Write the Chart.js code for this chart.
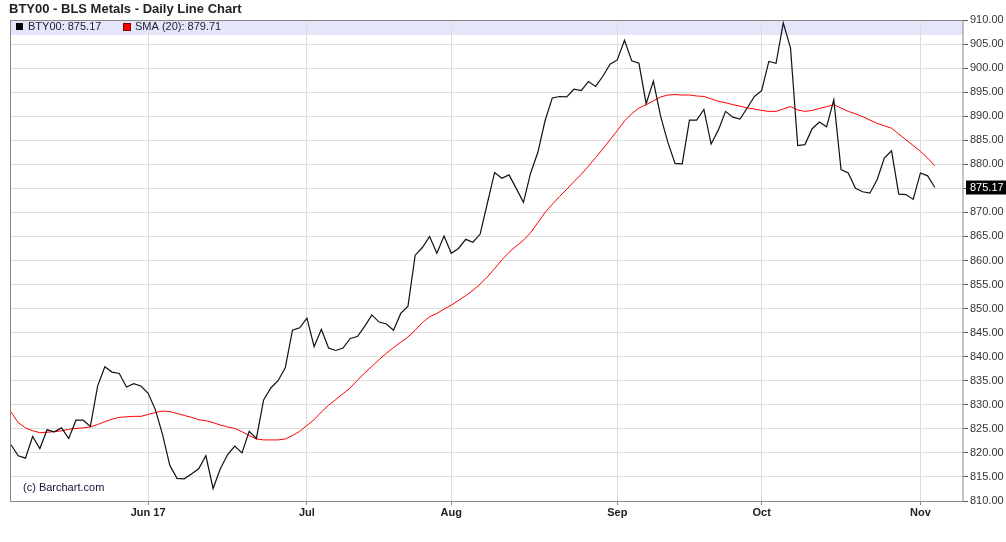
<!DOCTYPE html>
<html>
<head>
<meta charset="utf-8">
<script src="https://cdn.jsdelivr.net/npm/chart.js@4/dist/chart.umd.min.js"></script>
<style>
  html, body { margin: 0; padding: 0; background: #fff; }
  canvas { display: block; }
</style>
</head>
<body>
<canvas id="chart" width="1006" height="542"></canvas>
<script>
// trading days shown on the chart
const dates = [
  '2017-05-04','2017-05-05','2017-05-08','2017-05-09','2017-05-10','2017-05-11','2017-05-12','2017-05-15','2017-05-16','2017-05-17',
  '2017-05-18','2017-05-19','2017-05-22','2017-05-23','2017-05-24','2017-05-25','2017-05-26','2017-05-30','2017-05-31',
  '2017-06-01','2017-06-02','2017-06-05','2017-06-06','2017-06-07','2017-06-08','2017-06-09','2017-06-12','2017-06-13','2017-06-14',
  '2017-06-15','2017-06-16','2017-06-19','2017-06-20','2017-06-21','2017-06-22','2017-06-23','2017-06-26','2017-06-27','2017-06-28',
  '2017-06-29','2017-06-30',
  '2017-07-03','2017-07-05','2017-07-06','2017-07-07','2017-07-10','2017-07-11','2017-07-12','2017-07-13','2017-07-14','2017-07-17',
  '2017-07-18','2017-07-19','2017-07-20','2017-07-21','2017-07-24','2017-07-25','2017-07-26','2017-07-27','2017-07-28','2017-07-31',
  '2017-08-01','2017-08-02','2017-08-03','2017-08-04','2017-08-07','2017-08-08','2017-08-09','2017-08-10','2017-08-11','2017-08-14',
  '2017-08-15','2017-08-16','2017-08-17','2017-08-18','2017-08-21','2017-08-22','2017-08-23','2017-08-24','2017-08-25','2017-08-28',
  '2017-08-29','2017-08-30','2017-08-31',
  '2017-09-01','2017-09-05','2017-09-06','2017-09-07','2017-09-08','2017-09-11','2017-09-12','2017-09-13','2017-09-14','2017-09-15',
  '2017-09-18','2017-09-19','2017-09-20','2017-09-21','2017-09-22','2017-09-25','2017-09-26','2017-09-27','2017-09-28','2017-09-29',
  '2017-10-02','2017-10-03','2017-10-04','2017-10-05','2017-10-06','2017-10-09','2017-10-10','2017-10-11','2017-10-12','2017-10-13',
  '2017-10-16','2017-10-17','2017-10-18','2017-10-19','2017-10-20','2017-10-23','2017-10-24','2017-10-25','2017-10-26','2017-10-27',
  '2017-10-30','2017-10-31',
  '2017-11-01','2017-11-02','2017-11-03'
];

// BTY00 daily close
const closes = [
  821.7, 819.4, 818.9, 823.4, 820.9, 824.8, 824.4, 825.2, 823.0, 826.8,
  826.8, 825.5, 833.9, 837.9, 836.8, 836.5, 833.7, 834.4, 833.9,
  832.4, 829.0, 823.8, 817.4, 814.7, 814.6, 815.6, 816.7, 819.4, 812.6,
  816.7, 819.6, 821.4, 820.0, 824.5, 823.0, 831.0, 833.5, 835.0, 837.7,
  845.5, 846.0,
  848.0, 842.1, 845.7, 841.8, 841.3, 841.8, 843.8, 844.2, 846.3, 848.7,
  847.2, 846.8, 845.5, 849.0, 850.5, 861.1, 862.7, 865.0, 861.5, 865.1,
  861.5, 862.5, 864.4, 863.8, 865.5, 871.9, 878.3, 877.1, 877.8, 875.0,
  872.1, 878.2, 882.5, 889.1, 893.8, 894.1, 894.0, 895.6, 895.3, 897.2,
  896.2, 898.3, 900.8,
  901.7, 905.8, 901.5, 901.0, 892.6, 897.3, 890.0, 884.6, 880.2, 880.1,
  889.2, 889.2, 891.4, 884.2, 887.1, 891.0, 889.8, 889.4, 891.7, 894.1,
  895.3, 901.4, 901.0, 909.4, 904.2, 883.9, 884.1, 887.4, 888.8, 887.8,
  893.4, 878.9, 878.2, 875.0, 874.3, 874.0, 876.8, 881.3, 882.8, 873.8,
  873.7, 872.7,
  878.2, 877.6, 875.17
];

// 20-day simple moving average, as drawn
const sma20 = [
  828.5, 826.3, 825.2, 824.6, 824.2, 824.3, 824.4, 824.6, 824.9, 825.1,
  825.2, 825.4, 825.9, 826.5, 827.0, 827.4, 827.5, 827.6, 827.6,
  828.0, 828.4, 828.7, 828.6, 828.2, 827.8, 827.4, 826.9, 826.7, 826.3,
  825.8, 825.4, 825.1, 824.4, 823.6, 822.9, 822.7, 822.7, 822.7, 822.9,
  823.6, 824.5,
  825.7, 826.9, 828.5, 829.9, 831.1, 832.3, 833.5, 835.1, 836.6, 838.0,
  839.4, 840.7, 841.9, 843.0, 844.1, 845.5, 847.1, 848.3, 849.0, 849.9,
  850.7, 851.7, 852.7, 853.8, 855.1, 856.6, 858.3, 860.1, 861.7, 863.0,
  864.2, 865.8, 867.9, 870.0, 871.7, 873.3, 874.8, 876.4, 877.9, 879.6,
  881.4, 883.2, 885.1,
  887.0, 889.0, 890.5, 891.7, 892.4, 893.2, 894.0, 894.4, 894.5, 894.4,
  894.4, 894.2, 894.1, 893.6, 893.1, 892.8, 892.4, 892.1, 891.7, 891.5,
  891.2, 891.0, 891.0, 891.5, 892.0, 891.3, 891.0, 891.2, 891.6, 892.0,
  892.4, 891.7, 891.0, 890.5, 889.9, 889.2, 888.5, 888.0, 887.5, 886.3,
  885.1, 883.9,
  882.7, 881.3, 879.71
];

const monthLabels = ['Jun 17', 'Jul', 'Aug', 'Sep', 'Oct', 'Nov'];
const yTicks = [810, 815, 820, 825, 830, 835, 840, 845, 850, 855, 860, 865, 870, 875, 880, 885, 890, 895, 900, 905, 910];

// first trading day of each month after the first
const monthStarts = [];
for (let i = 1; i < dates.length; i++) {
  if (dates[i].slice(5, 7) !== dates[i - 1].slice(5, 7)) monthStarts.push(i);
}

const lastClose = closes[closes.length - 1];
const lastSma = sma20[sma20.length - 1];

const decorPlugin = {
  id: 'decor',
  beforeDraw(chart) {
    const ctx = chart.ctx;
    const a = chart.chartArea;
    ctx.save();
    ctx.fillStyle = '#fff';
    ctx.fillRect(0, 0, chart.width, chart.height);
    // title
    ctx.fillStyle = '#222';
    ctx.font = 'bold 13px "Liberation Sans", Arial, sans-serif';
    ctx.textBaseline = 'alphabetic';
    ctx.fillText('BTY00 - BLS Metals - Daily Line Chart', 9, 13);
    // legend band
    ctx.fillStyle = '#e6e6fa';
    ctx.fillRect(a.left, a.top, a.right - a.left, 15);
    ctx.restore();
  },
  afterDatasetsDraw(chart) {
    const ctx = chart.ctx;
    const a = chart.chartArea;
    const y = chart.scales.y;
    ctx.save();
    // frame
    ctx.strokeStyle = '#888';
    ctx.lineWidth = 1;
    ctx.strokeRect(a.left - 0.5, a.top + 0.5, a.right - a.left + 0.5, a.bottom - a.top);
    // legend entries
    ctx.font = '11px "Liberation Sans", Arial, sans-serif';
    ctx.textBaseline = 'middle';
    ctx.fillStyle = '#000';
    ctx.fillRect(16, 23, 7, 7);
    ctx.fillStyle = '#223';
    ctx.fillText('BTY00: ' + lastClose.toFixed(2), 28, 27);
    ctx.fillStyle = '#f00';
    ctx.fillRect(123, 23, 7, 7);
    ctx.strokeStyle = '#800';
    ctx.strokeRect(123.5, 23.5, 7, 7);
    ctx.fillStyle = '#223';
    ctx.fillText('SMA (20): ' + lastSma.toFixed(2), 135, 27);
    // watermark
    ctx.fillStyle = '#113';
    ctx.fillText('(c) Barchart.com', 23, 488);
    // last value marker on the price axis
    const py = y.getPixelForValue(lastClose);
    ctx.fillStyle = '#000';
    ctx.fillRect(a.right + 3, py - 7, 40, 14);
    ctx.fillStyle = '#fff';
    ctx.textAlign = 'left';
    ctx.fillText(lastClose.toFixed(2), a.right + 7, py + 0.5);
    ctx.restore();
  }
};

new Chart(document.getElementById('chart'), {
  type: 'line',
  data: {
    datasets: [
      {
        label: 'BTY00',
        data: closes.map((v, i) => ({ x: i, y: v })),
        borderColor: '#111',
        borderWidth: 1.2,
        pointRadius: 0,
        tension: 0,
        order: 1
      },
      {
        label: 'SMA (20)',
        data: sma20.map((v, i) => ({ x: i, y: v })),
        borderColor: '#f00',
        borderWidth: 1,
        pointRadius: 0,
        tension: 0,
        order: 2
      }
    ]
  },
  options: {
    responsive: false,
    animation: false,
    devicePixelRatio: 1,
    layout: { padding: { left: 11, top: 20, right: 0, bottom: 0 } },
    plugins: {
      legend: { display: false },
      title: { display: false },
      tooltip: { enabled: false }
    },
    scales: {
      x: {
        type: 'linear',
        min: 0,
        max: 131.9,
        afterFit(scale) { scale.height = 41; },
        afterBuildTicks(scale) { scale.ticks = monthStarts.map(v => ({ value: v })); },
        grid: { color: '#ddd', tickColor: '#888', tickLength: 4 },
        border: { display: false },
        ticks: {
          autoSkip: false,
          maxRotation: 0,
          padding: 1,
          color: '#222',
          font: { family: '"Liberation Sans", Arial, sans-serif', size: 11, weight: 'bold' },
          callback(value) {
            const k = monthStarts.indexOf(value);
            return k >= 0 ? monthLabels[k] : '';
          }
        }
      },
      y: {
        position: 'right',
        min: 810,
        max: 910,
        afterFit(scale) { scale.width = 43; },
        afterBuildTicks(scale) { scale.ticks = yTicks.map(v => ({ value: v })); },
        grid: { color: '#ddd', tickColor: '#555', tickLength: 5 },
        border: { display: false },
        ticks: {
          autoSkip: false,
          padding: 2,
          color: '#333',
          font: { family: '"Liberation Sans", Arial, sans-serif', size: 11 },
          callback(value) { return value.toFixed(2); }
        }
      }
    }
  },
  plugins: [decorPlugin]
});
</script>
</body>
</html>
